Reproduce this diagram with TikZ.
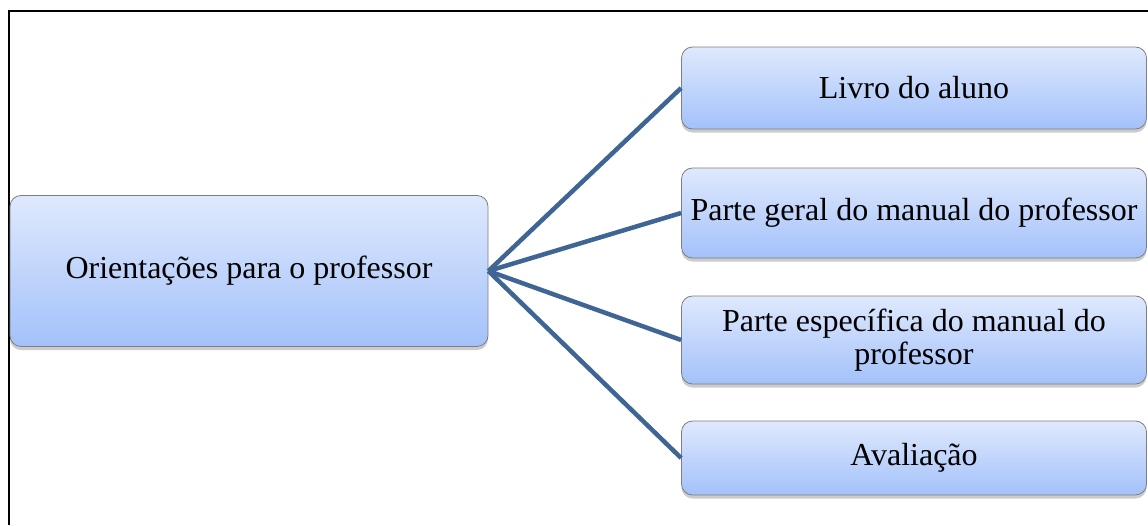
\documentclass[tikz,border=0pt]{standalone}
\usepackage{fontspec}
\setmainfont{Liberation Serif}
\usetikzlibrary{shadows}
\definecolor{boxtop}{HTML}{DFE9FD}
\definecolor{boxbot}{HTML}{A3C1FA}
\definecolor{boxline}{HTML}{7F7F7F}
\definecolor{linkc}{HTML}{3F6594}
\begin{document}
\begin{tikzpicture}[x=1pt,y=-1pt,
  mbox/.style={draw=boxline, line width=0.8pt, rounded corners=11pt,
    top color=boxtop, bottom color=boxbot, align=center,
    font=\fontsize{32}{33}\selectfont, inner sep=0pt,
    drop shadow={opacity=0.4, shadow xshift=0pt, shadow yshift=-3.5pt}},
  link/.style={draw=linkc, line width=4.5pt}]
\useasboundingbox (0,0) rectangle (1148,525);
\fill[white] (0,0) rectangle (1148,525);
\draw[line width=2pt] (8.5,525) -- (8.5,10.5) -- (1148,10.5);
\node[mbox, minimum width=478pt, minimum height=151pt] (c) at (249,271) {Orientações para o professor};
\node[mbox, minimum width=465pt, minimum height=82pt] (a) at (914,88) {Livro do aluno};
\node[mbox, minimum width=465pt, minimum height=90pt] (b) at (914,213) {Parte geral do manual do professor};
\node[mbox, minimum width=465pt, minimum height=88pt] (d) at (914,340) {Parte específica do manual do\\professor};
\node[mbox, minimum width=465pt, minimum height=74pt] (e) at (914,458) {Avaliação};
\draw[link] (c.east) -- (a.west);
\draw[link] (c.east) -- (b.west);
\draw[link] (c.east) -- (d.west);
\draw[link] (c.east) -- (e.west);
\end{tikzpicture}
\end{document}
